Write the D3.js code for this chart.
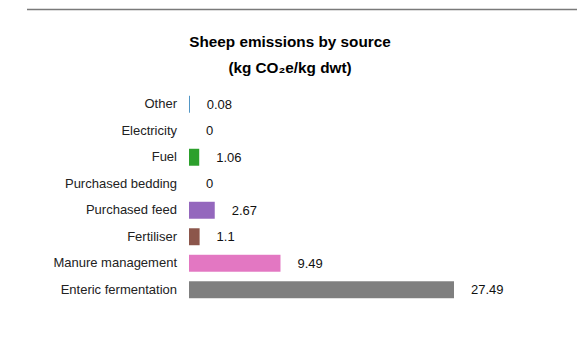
<!DOCTYPE html>
<html>
<head>
<meta charset="utf-8">
<script src="https://cdn.jsdelivr.net/npm/d3@7"></script>
<style>
  html, body { margin: 0; padding: 0; background: #fff; }
  svg { display: block; font-family: "Liberation Sans", Arial, sans-serif; }
</style>
</head>
<body>
<svg id="chart" width="577" height="340"></svg>
<script>
// Emission sources, top to bottom
const categories = [
  "Other", "Electricity", "Fuel", "Purchased bedding",
  "Purchased feed", "Fertiliser", "Manure management", "Enteric fermentation"
];
// kg CO2e per kg dressed weight
const values = [0.08, 0, 1.06, 0, 2.67, 1.1, 9.49, 27.49];
const valueLabels = ["0.08", "0", "1.06", "0", "2.67", "1.1", "9.49", "27.49"];

const titleLines = ["Sheep emissions by source", "(kg CO\u2082e/kg dwt)"];

const svg = d3.select("#chart");
const W = 577, H = 340;

// top rule
svg.append("line")
  .attr("x1", 27).attr("x2", W).attr("y1", 9.5).attr("y2", 9.5)
  .attr("stroke", "#7a7a7a").attr("stroke-width", 1.6);

// titles
svg.selectAll("text.title")
  .data(titleLines)
  .join("text")
  .attr("class", "title")
  .attr("x", 290)
  .attr("y", (d, i) => 47 + i * 26)
  .attr("text-anchor", "middle")
  .attr("font-size", 15.3)
  .attr("font-weight", "bold")
  .attr("fill", "#000")
  .text(d => d);

const x0 = 189;
const x = d3.scaleLinear().domain([0, 27.49]).range([x0, 454]);
const y = d3.scaleBand().domain(categories).range([91, 303]).paddingInner(0.36).paddingOuter(0.18);

const color = d3.scaleOrdinal().domain(categories).range(d3.schemeCategory10);

// category axis labels (no line, no ticks)
const yAxis = d3.axisLeft(y).tickSize(0).tickPadding(12);
const gy = svg.append("g").attr("transform", `translate(${x0},0)`).call(yAxis);
gy.select(".domain").remove();
gy.selectAll("text")
  .attr("font-family", "'Liberation Sans', Arial, sans-serif")
  .attr("font-size", 13)
  .attr("fill", "#222");

const rows = categories.map((c, i) => ({ c, v: values[i], label: valueLabels[i] }));

svg.selectAll("rect.bar")
  .data(rows)
  .join("rect")
  .attr("class", "bar")
  .attr("x", x(0))
  .attr("y", d => y(d.c))
  .attr("width", d => Math.max(0, x(d.v) - x(0)))
  .attr("height", y.bandwidth())
  .attr("fill", d => color(d.c));

svg.selectAll("text.val")
  .data(rows)
  .join("text")
  .attr("class", "val")
  .attr("x", d => x(d.v) + 17)
  .attr("y", d => y(d.c) + y.bandwidth() / 2)
  .attr("dy", "0.35em")
  .attr("font-size", 13)
  .attr("fill", "#111")
  .text(d => d.label);
</script>
</body>
</html>
